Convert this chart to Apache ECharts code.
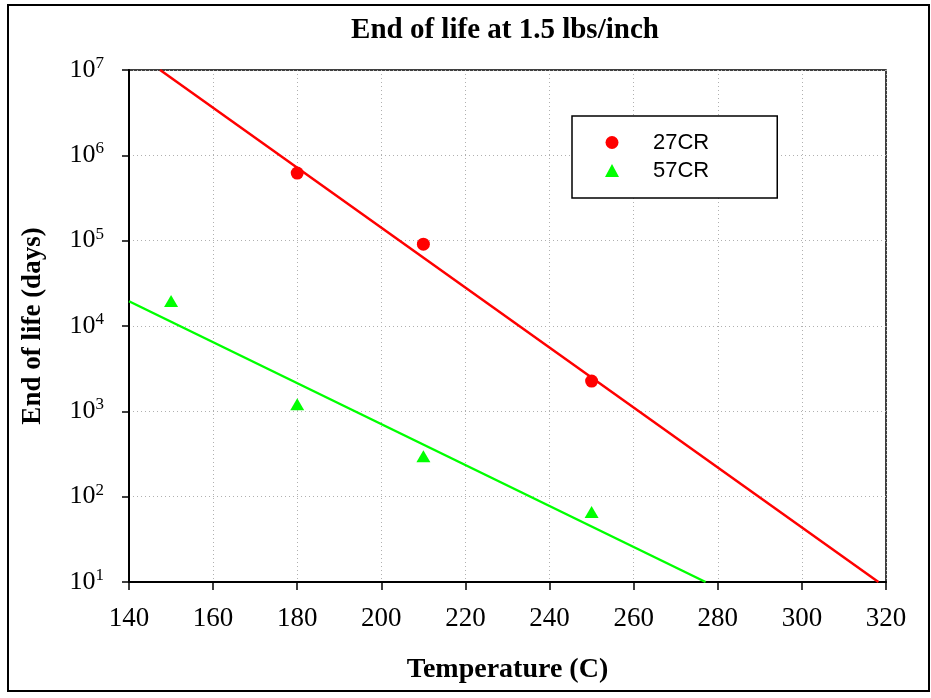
<!DOCTYPE html>
<html>
<head>
<meta charset="utf-8">
<script src="https://cdn.jsdelivr.net/npm/echarts@6/dist/echarts.min.js"></script>
<style>
  html, body { margin: 0; padding: 0; background: #fff; }
  #chart { width: 931px; height: 698px; }
</style>
</head>
<body>
<div id="chart"></div>
<script>
// measured points (temperature C, days)
const temps27 = [180, 210, 250];
const life27 = [620000, 91000, 2260];
const temps57 = [150, 180, 210, 250];
const life57 = [19600, 1210, 298, 66];

// trend line ends
const fit27 = [[147.4, 1e7], [318.2, 10]];
const fit57 = [[140, 19500], [277.1, 10]];

const xTicks = [140, 160, 180, 200, 220, 240, 260, 280, 300, 320];

const serif = "'Liberation Serif', 'Times New Roman', serif";
const sans = "'Liberation Sans', Arial, sans-serif";

const chart = echarts.init(document.getElementById('chart'));

const option = {
  backgroundColor: '#fff',
  animation: false,
  title: {
    text: 'End of life at 1.5 lbs/inch',
    left: 500,
    top: 11,
    textAlign: 'center',
    textStyle: {fontFamily: serif, fontSize: 29, fontWeight: 'bold', color: '#000'}
  },
  graphic: [{
    type: 'rect',
    shape: {x: 8, y: 5, width: 921, height: 686},
    style: {fill: null, stroke: '#000', lineWidth: 2},
    silent: true
  }],
  grid: {
    left: 129, right: 45, top: 70, bottom: 116,
    show: true, borderColor: '#000', borderWidth: 1.5, backgroundColor: '#fff'
  },
  legend: {
    orient: 'vertical',
    left: 572, top: 116,
    padding: [15, 68, 16, 33],
    itemGap: 5,
    itemWidth: 14, itemHeight: 13,
    borderColor: '#000', borderWidth: 1.5, backgroundColor: '#fff',
    data: ['27CR', '57CR'],
    textStyle: {fontFamily: sans, fontSize: 22, lineHeight: 23, color: '#000', padding: [0, 0, 0, 29]}
  },
  xAxis: {
    type: 'value',
    min: xTicks[0], max: xTicks[xTicks.length - 1], interval: 20,
    name: 'Temperature (C)',
    nameLocation: 'middle',
    nameGap: 74,
    nameTextStyle: {fontFamily: serif, fontSize: 28, fontWeight: 'bold', color: '#000'},
    axisLine: {onZero: false, lineStyle: {color: '#000', width: 2}},
    axisTick: {length: 8, lineStyle: {color: '#000', width: 1.5}},
    axisLabel: {margin: 23, fontFamily: serif, fontSize: 27, color: '#000'},
    splitLine: {show: true, lineStyle: {color: '#b0b0b0', type: [1, 3], width: 1}}
  },
  yAxis: {
    type: 'log', logBase: 10,
    min: 10, max: 1e7,
    name: 'End of life (days)',
    nameLocation: 'middle',
    nameGap: 82,
    nameTextStyle: {fontFamily: serif, fontSize: 27, fontWeight: 'bold', color: '#000'},
    axisLine: {lineStyle: {color: '#000', width: 2}},
    axisTick: {length: 7, lineStyle: {color: '#000', width: 1.5}},
    axisLabel: {
      margin: 25,
      formatter: v => '{b|10}{s|' + Math.round(Math.log10(v)) + '}',
      rich: {
        b: {fontFamily: serif, fontSize: 26, color: '#000', lineHeight: 30},
        s: {fontFamily: serif, fontSize: 17, color: '#000', verticalAlign: 'top', lineHeight: 30, padding: [0, 0, 12, 0]}
      }
    },
    splitLine: {show: true, lineStyle: {color: '#b0b0b0', type: [1, 3], width: 1}},
    minorTick: {show: false}
  },
  series: [
    {
      name: '27CR fit', type: 'line', data: fit27, showSymbol: false, silent: true,
      lineStyle: {color: '#ff0000', width: 2.5}, z: 2
    },
    {
      name: '57CR fit', type: 'line', data: fit57, showSymbol: false, silent: true,
      lineStyle: {color: '#00ff00', width: 2.5}, z: 2
    },
    {
      name: '27CR', type: 'scatter',
      data: temps27.map((t, i) => [t, life27[i]]),
      symbol: 'circle', symbolSize: 13,
      itemStyle: {color: '#ff0000', opacity: 1}, z: 3
    },
    {
      name: '57CR', type: 'scatter',
      data: temps57.map((t, i) => [t, life57[i]]),
      symbol: 'triangle', symbolSize: [14, 12],
      itemStyle: {color: '#00ff00', opacity: 1}, z: 3
    }
  ]
};

chart.setOption(option);
</script>
</body>
</html>
